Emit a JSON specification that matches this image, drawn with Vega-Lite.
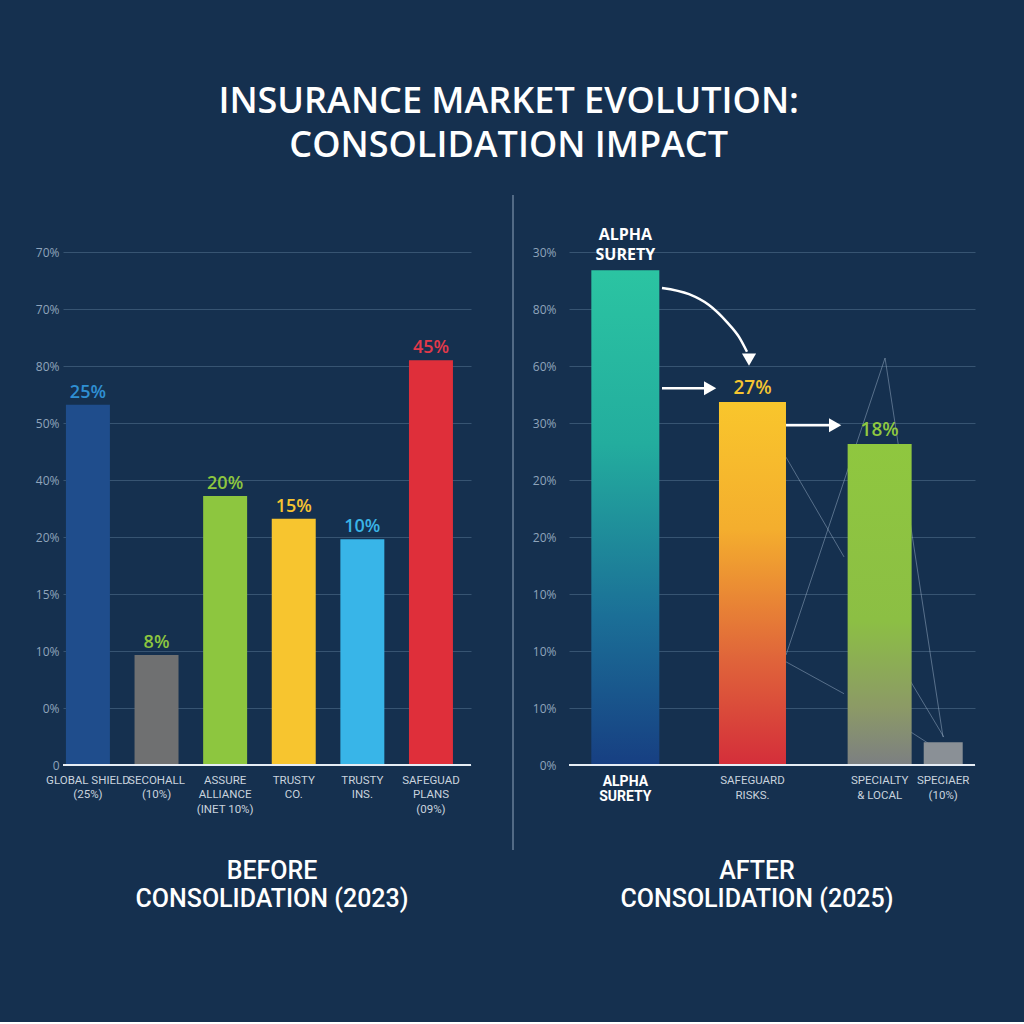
{
  "$schema": "https://vega.github.io/schema/vega-lite/v6.json",
  "background": "#15304f",
  "autosize": {"type": "pad"},
  "padding": {"left": 35, "top": 84, "right": 48, "bottom": 110},
  "config": {"view": {"stroke": null}, "font": "Open Sans"},
  "title": {
    "text": ["INSURANCE MARKET EVOLUTION:", "CONSOLIDATION IMPACT"],
    "fontSize": 36, "fontWeight": 600, "font": "Open Sans", "color": "#ffffff",
    "lineHeight": 44, "anchor": "middle", "offset": 29, "dx": 3
  },
  "spacing": 18,
  "hconcat": [
    {
      "width": 408, "height": 570,
      "title": {
        "text": ["BEFORE", "CONSOLIDATION (2023)"], "orient": "bottom", "frame": "group", "anchor": "middle",
        "font": "Roboto", "fontSize": 25, "fontWeight": 500, "color": "#ffffff",
        "lineHeight": 28, "offset": 44, "dx": 5
      },
      "data": {"values": [
        {"company": "GLOBAL SHIELD|(25%)", "value": 6.32, "label": "25%"},
        {"company": "SECOHALL|(10%)", "value": 1.93, "label": "8%"},
        {"company": "ASSURE|ALLIANCE|(INET 10%)", "value": 4.72, "label": "20%"},
        {"company": "TRUSTY|CO.", "value": 4.32, "label": "15%"},
        {"company": "TRUSTY|INS.", "value": 3.96, "label": "10%"},
        {"company": "SAFEGUAD|PLANS|(09%)", "value": 7.1, "label": "45%"}
      ]},
      "layer": [
        {
          "mark": {"type": "bar"},
          "encoding": {
            "x": {"field": "company", "type": "nominal", "sort": null,
              "scale": {"paddingInner": 0.359, "paddingOuter": 0.153, "align": 0.14},
              "axis": {"title": null, "domain": false, "ticks": false, "labelAngle": 0,
                "labelFont": "Roboto", "labelFontSize": 11.5, "labelColor": "#c9d3de",
                "labelLineHeight": 14.5, "labelPadding": 9, "labelOverlap": false, "labelLimit": 0,
                "labelExpr": "split(datum.label, '|')"}},
            "y": {"field": "value", "type": "quantitative", "scale": {"domain": [0, 10], "nice": false},
              "axis": {"title": null, "values": [0, 1, 2, 3, 4, 5, 6, 7, 8, 9], "domain": false, "ticks": false,
                "grid": true, "gridColor": "#5a7896", "gridOpacity": 0.5, "labelColor": "#8fa4bb",
                "labelFontSize": 12, "labelPadding": 4,
                "labelExpr": "['0','0%','10%','15%','20%','40%','50%','80%','70%','70%'][datum.value]"}},
            "color": {"field": "company", "type": "nominal", "sort": null, "legend": null,
              "scale": {"range": ["#1f4d8c", "#6f7071", "#8dc63f", "#f7c52f", "#38b5e8", "#df2f3a"]}}
          }
        },
        {
          "mark": {"type": "text", "baseline": "alphabetic", "dy": -7, "fontSize": 18, "fontWeight": 600, "font": "Open Sans"},
          "encoding": {
            "x": {"field": "company", "type": "nominal", "sort": null},
            "y": {"field": "value", "type": "quantitative"},
            "text": {"field": "label"},
            "color": {"field": "company", "type": "nominal", "sort": null, "legend": null,
              "scale": {"range": ["#2f8fd3", "#8dc63f", "#8dc63f", "#f5c431", "#3ab4e6", "#e2394a"]}}
          }
        },
        {
          "data": {"values": [{}]},
          "mark": {"type": "rule", "color": "#e6edf5", "strokeWidth": 2},
          "encoding": {"y": {"datum": 0}}
        }
      ],
      "resolve": {"scale": {"color": "independent"}}
    },
    {
      "width": 23, "height": 655,
      "data": {"values": [{}]},
      "mark": {"type": "rule", "color": "#8aa0b8", "strokeWidth": 1.5, "opacity": 0.7},
      "encoding": {"x": {"datum": 1, "type": "quantitative", "scale": {"domain": [0, 1]}, "axis": null}}
    },
    {
      "width": 406, "height": 570,
      "title": {
        "text": ["AFTER", "CONSOLIDATION (2025)"], "orient": "bottom", "frame": "group", "anchor": "middle",
        "font": "Roboto", "fontSize": 25, "fontWeight": 500, "color": "#ffffff",
        "lineHeight": 28, "offset": 56, "dx": -15
      },
      "layer": [
        {
          "data": {"values": [
            {"u1": 3.027, "v1": 1.93, "u2": 4.585, "v2": 7.14},
            {"u1": 4.585, "v1": 7.14, "u2": 5.497, "v2": 0.49},
            {"u1": 3.027, "v1": 5.40, "u2": 3.94, "v2": 3.65},
            {"u1": 3.027, "v1": 1.81, "u2": 3.94, "v2": 1.25},
            {"u1": 4.947, "v1": 1.54, "u2": 5.51, "v2": 0.49},
            {"u1": 4.947, "v1": 0.61, "u2": 5.28, "v2": 0.37}
          ]},
          "mark": {"type": "rule", "color": "#a9bdd2", "strokeWidth": 1, "opacity": 0.45},
          "encoding": {
            "x": {"field": "u1", "type": "quantitative", "scale": {"domain": [-0.387, 6.0], "nice": false, "zero": false}, "axis": null},
            "x2": {"field": "u2"},
            "y": {"field": "v1", "type": "quantitative", "scale": {"domain": [0, 10], "nice": false}, "axis": null},
            "y2": {"field": "v2"}
          }
        },
        {
          "data": {"values": [
            {"company": "ALPHA|SURETY", "value": 8.68, "label": "ALPHA|SURETY"},
            {"company": "SAFEGUARD|RISKS.", "value": 6.37, "label": "27%"},
            {"company": "SPECIALTY|& LOCAL", "value": 5.63, "label": "18%"},
            {"company": "SPECIAER|(10%)", "value": 0.4, "label": ""}
          ]},
          "layer": [
            {
              "transform": [{"filter": "datum.company === 'ALPHA|SURETY'"}],
              "mark": {"type": "bar", "width": 68, "color": {"gradient": "linear", "x1": 0, "y1": 0, "x2": 0, "y2": 1,
                "stops": [{"offset": 0, "color": "#2bc4a2"}, {"offset": 0.35, "color": "#23ad9e"}, {"offset": 0.7, "color": "#1b6f97"}, {"offset": 1, "color": "#173f82"}]}},
              "encoding": {
                "x": {"field": "company", "type": "nominal",
                  "scale": {"domain": ["ALPHA|SURETY", "gap1", "SAFEGUARD|RISKS.", "gap2", "SPECIALTY|& LOCAL", "SPECIAER|(10%)"],
                    "paddingInner": 0, "paddingOuter": 0.193, "align": 1},
                  "axis": {"title": null, "domain": false, "ticks": false, "labelAngle": 0,
                    "labelFont": "Roboto",
                    "labelFontSize": {"condition": {"test": "datum.value === 'ALPHA|SURETY'", "value": 14}, "value": 11.5},
                    "labelFontWeight": {"condition": {"test": "datum.value === 'ALPHA|SURETY'", "value": "bold"}, "value": "normal"},
                    "labelColor": {"condition": {"test": "datum.value === 'ALPHA|SURETY'", "value": "#ffffff"}, "value": "#c9d3de"},
                    "labelLineHeight": 15, "labelPadding": 9, "labelOverlap": false, "labelLimit": 0,
                    "labelExpr": "indexof(datum.label, 'gap') === 0 ? '' : split(datum.label, '|')"}},
                "y": {"field": "value", "type": "quantitative", "scale": {"domain": [0, 10], "nice": false},
                  "axis": {"title": null, "values": [0, 1, 2, 3, 4, 5, 6, 7, 8, 9], "domain": false, "ticks": false,
                    "grid": true, "gridColor": "#5a7896", "gridOpacity": 0.5, "labelColor": "#8fa4bb",
                    "labelFontSize": 12, "labelPadding": 13,
                    "labelExpr": "['0%','10%','10%','10%','20%','20%','30%','60%','80%','30%'][datum.value]"}}
              }
            },
            {
              "transform": [{"filter": "datum.company === 'SAFEGUARD|RISKS.'"}],
              "mark": {"type": "bar", "width": 67, "color": {"gradient": "linear", "x1": 0, "y1": 0, "x2": 0, "y2": 1,
                "stops": [{"offset": 0, "color": "#f9c62c"}, {"offset": 0.35, "color": "#f4ae2e"}, {"offset": 0.7, "color": "#e0663a"}, {"offset": 1, "color": "#d42e3a"}]}},
              "encoding": {
                "x": {"field": "company", "type": "nominal"},
                "y": {"field": "value", "type": "quantitative"}
              }
            },
            {
              "transform": [{"filter": "datum.company === 'SPECIALTY|& LOCAL'"}],
              "mark": {"type": "bar", "width": 64, "color": {"gradient": "linear", "x1": 0, "y1": 0, "x2": 0, "y2": 1,
                "stops": [{"offset": 0, "color": "#8fc73f"}, {"offset": 0.55, "color": "#8cbf44"}, {"offset": 0.82, "color": "#8c9a66"}, {"offset": 1, "color": "#7c7f82"}]}},
              "encoding": {
                "x": {"field": "company", "type": "nominal"},
                "y": {"field": "value", "type": "quantitative"}
              }
            },
            {
              "transform": [{"filter": "datum.company === 'SPECIAER|(10%)'"}],
              "mark": {"type": "bar", "width": 39, "color": "#8a9096"},
              "encoding": {
                "x": {"field": "company", "type": "nominal"},
                "y": {"field": "value", "type": "quantitative"}
              }
            },
            {
              "transform": [{"filter": "datum.label !== '' && datum.company !== 'ALPHA|SURETY'"}],
              "mark": {"type": "text", "baseline": "alphabetic", "dy": -8, "fontSize": 19, "fontWeight": 600, "font": "Open Sans"},
              "encoding": {
                "x": {"field": "company", "type": "nominal"},
                "y": {"field": "value", "type": "quantitative"},
                "text": {"field": "label"},
                "color": {"field": "company", "type": "nominal", "legend": null,
                  "scale": {"domain": ["SAFEGUARD|RISKS.", "SPECIALTY|& LOCAL"], "range": ["#f5c531", "#8fc940"]}}
              }
            },
            {
              "transform": [{"filter": "datum.company === 'ALPHA|SURETY'"}],
              "mark": {"type": "text", "baseline": "bottom", "dy": -27, "fontSize": 16, "fontWeight": 700, "font": "Open Sans",
                "lineBreak": "|", "lineHeight": 20, "color": "#ffffff"},
              "encoding": {
                "x": {"field": "company", "type": "nominal"},
                "y": {"field": "value", "type": "quantitative"},
                "text": {"field": "label"}
              }
            },
            {
              "data": {"values": [{}]},
              "mark": {"type": "rule", "color": "#e6edf5", "strokeWidth": 2},
              "encoding": {"y": {"datum": 0}}
            }
          ]
        },
        {
          "layer": [
            {
              "data": {"values": [
                {"u": 1.076, "v": 8.37}, {"u": 1.501, "v": 8.26}, {"u": 1.815, "v": 8.07},
                {"u": 2.098, "v": 7.77}, {"u": 2.287, "v": 7.51}, {"u": 2.413, "v": 7.25}
              ]},
              "mark": {"type": "line", "color": "#ffffff", "strokeWidth": 2.5, "interpolate": "monotone"},
              "encoding": {
                "x": {"field": "u", "type": "quantitative", "scale": {"domain": [-0.387, 6.0], "nice": false, "zero": false}, "axis": null},
                "y": {"field": "v", "type": "quantitative", "scale": {"domain": [0, 10], "nice": false}, "axis": null}
              }
            },
            {
              "data": {"values": [
                {"u1": 1.076, "u2": 1.84, "v": 6.61},
                {"u1": 3.027, "u2": 3.81, "v": 5.96}
              ]},
              "mark": {"type": "rule", "color": "#ffffff", "strokeWidth": 2.5},
              "encoding": {
                "x": {"field": "u1", "type": "quantitative"},
                "x2": {"field": "u2"},
                "y": {"field": "v", "type": "quantitative"}
              }
            },
            {
              "data": {"values": [
                {"u": 1.833, "v": 6.61, "dir": "right"},
                {"u": 3.80, "v": 5.96, "dir": "right"},
                {"u": 2.445, "v": 7.11, "dir": "down"}
              ]},
              "mark": {"type": "point", "filled": true, "color": "#ffffff", "opacity": 1, "size": 200},
              "encoding": {
                "x": {"field": "u", "type": "quantitative"},
                "y": {"field": "v", "type": "quantitative"},
                "shape": {"field": "dir", "type": "nominal", "legend": null,
                  "scale": {"domain": ["right", "down"], "range": ["triangle-right", "triangle-down"]}}
              }
            }
          ]
        }
      ],
      "resolve": {"scale": {"x": "independent", "y": "independent"}}
    }
  ]
}
